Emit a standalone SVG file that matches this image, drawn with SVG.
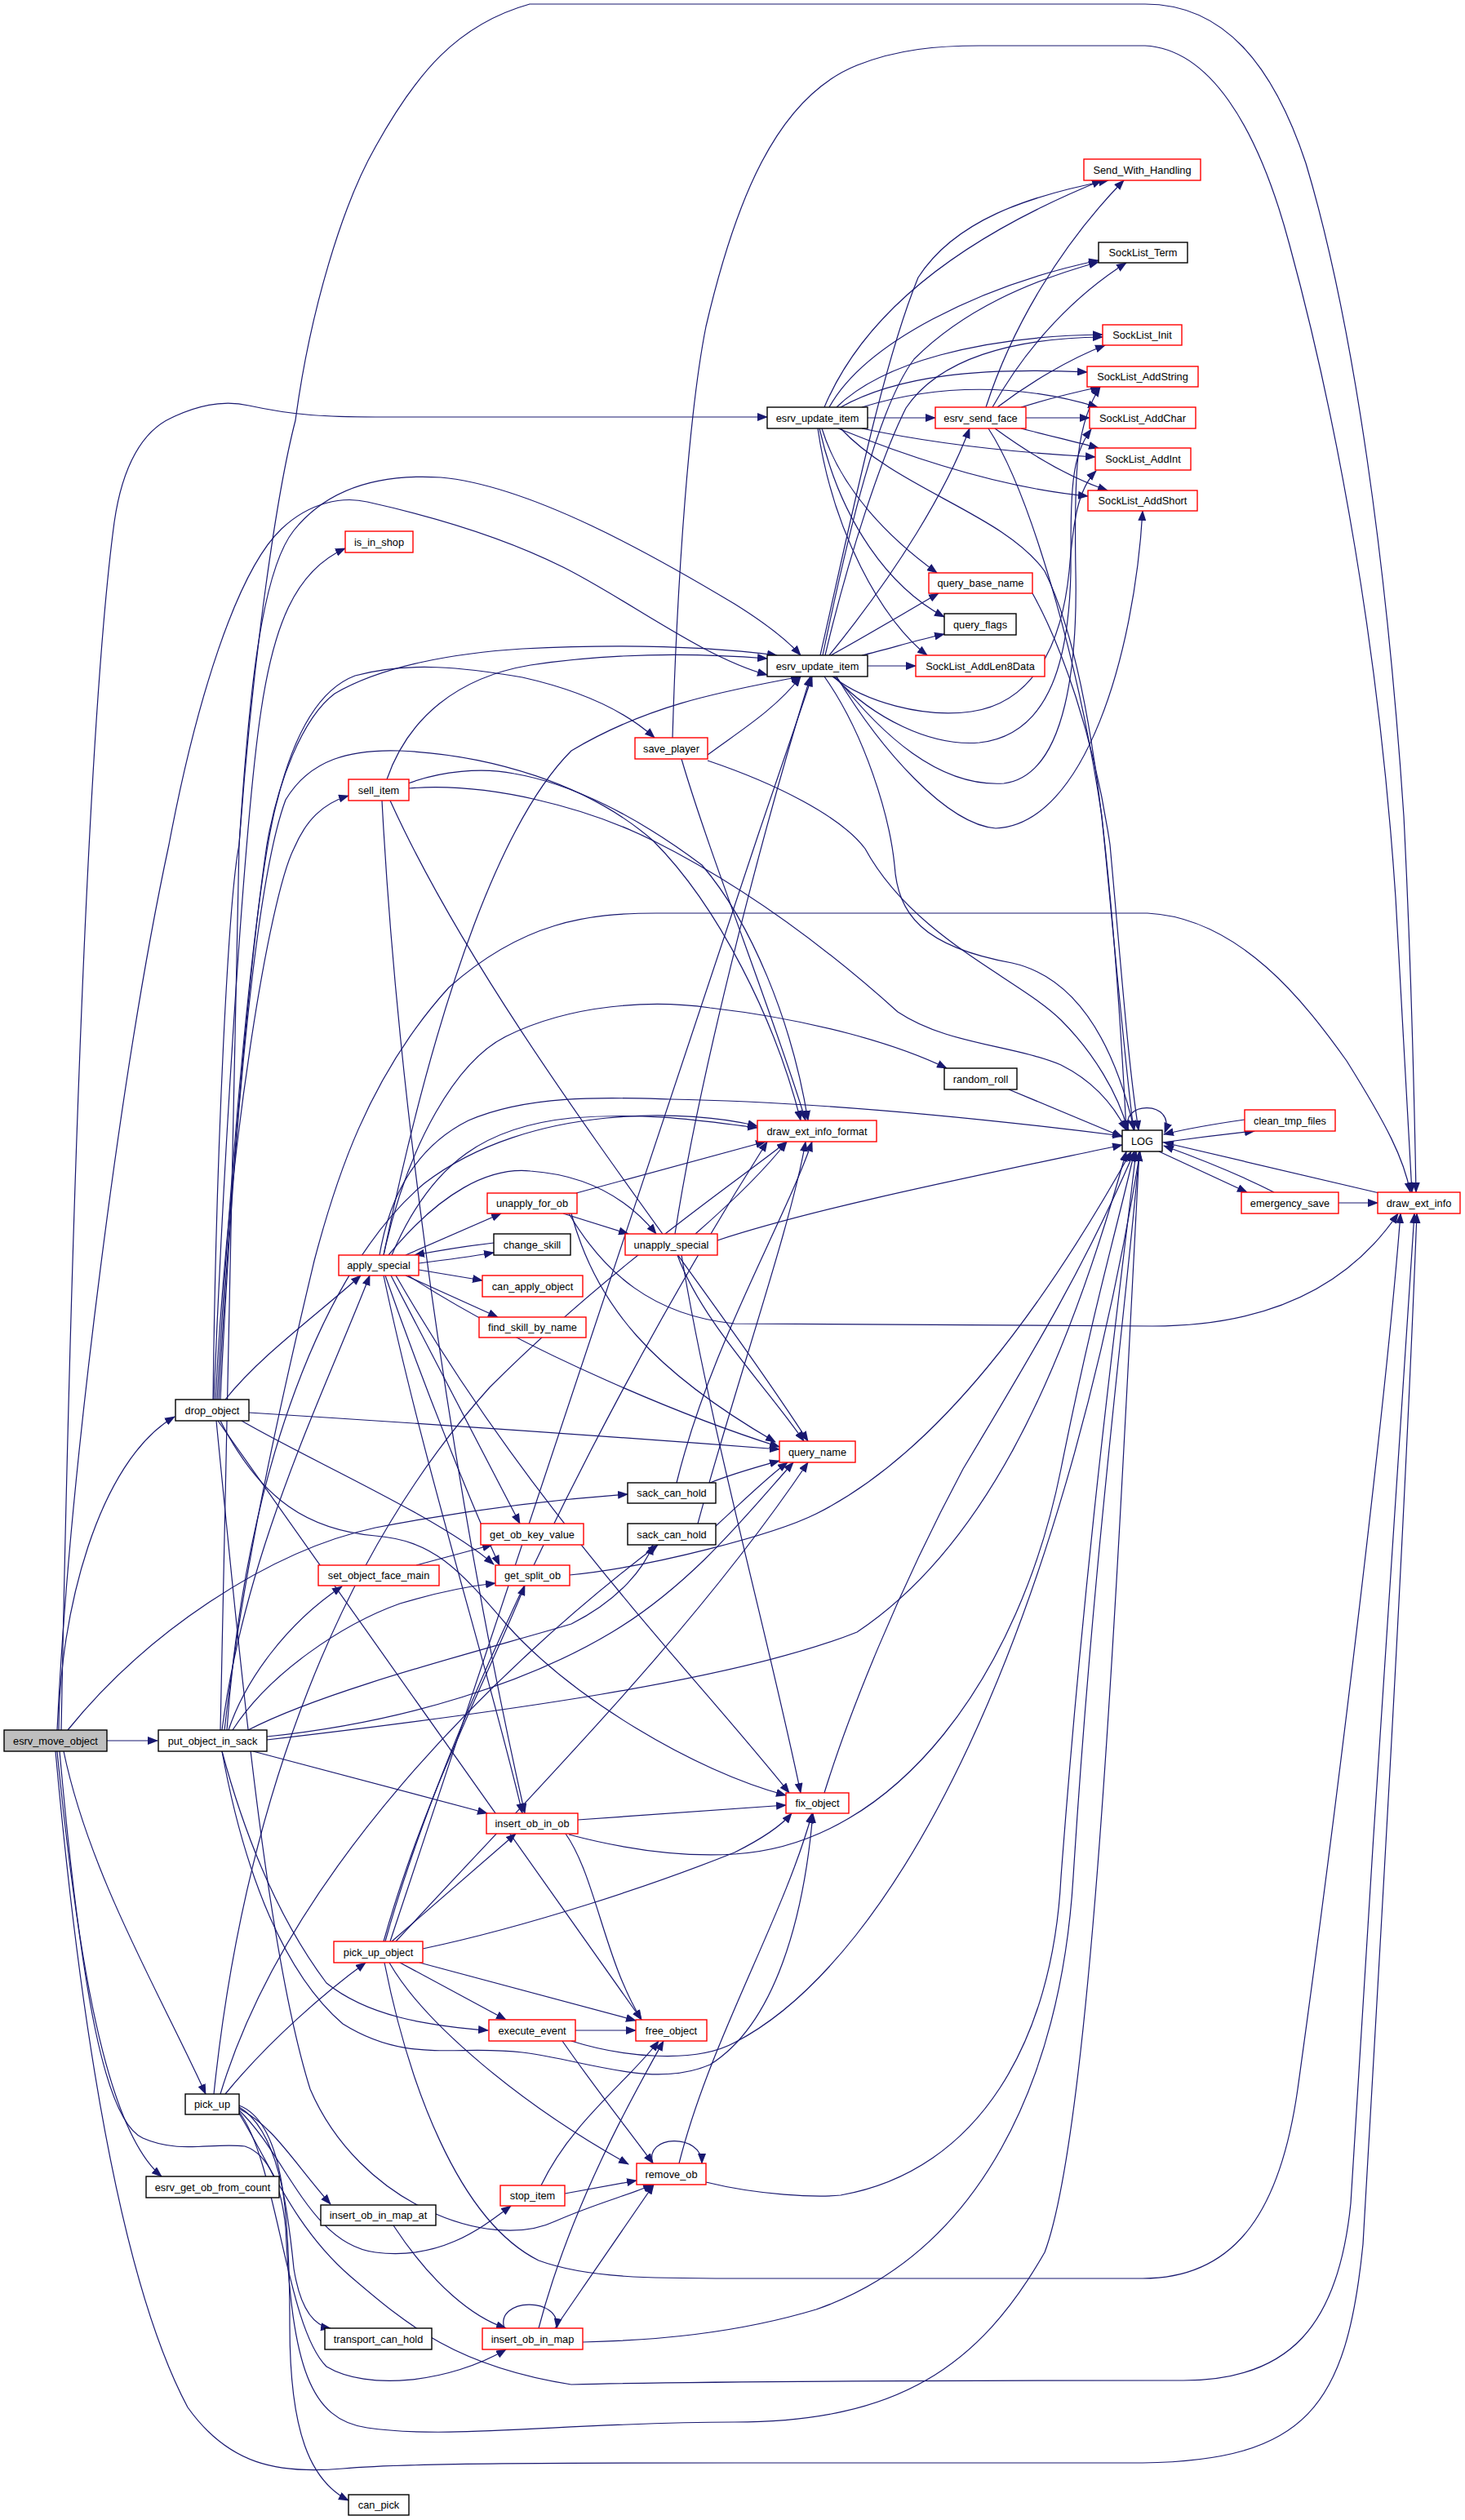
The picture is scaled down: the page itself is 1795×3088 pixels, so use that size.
<svg xmlns="http://www.w3.org/2000/svg" width="1795" height="3088" viewBox="0 0 1795 3088">
<style>
.e{fill:none;stroke:#191970;stroke-width:1.2;marker-end:url(#ah)}
.nd rect{fill:#fff;stroke-width:1.4}
.r rect{stroke:#ff0000}
.b rect{stroke:#000}
.s rect{fill:#bfbfbf;stroke:#000}
text{font-family:"Liberation Sans",Arial,Helvetica,sans-serif;font-size:12.8px;text-anchor:middle;fill:#000}
</style>
<defs>
<marker id="ah" markerWidth="13" markerHeight="10" refX="12" refY="5" orient="auto" markerUnits="userSpaceOnUse"><path d="M0,0 L13,5 L0,10 z" fill="#191970"/></marker>
</defs>
<rect width="1795" height="3088" fill="#fff"/>
<g id="edges">
<path class="e" d="M131,2133 L193,2133"/>
<path class="e" d="M72,2120 C72,1980 120,1790 214,1736"/>
<path class="e" d="M75,2120 C85,1600 105,900 140,640 C150,570 175,528 210,512 C245,495 275,490 305,497 C360,509 400,511 460,511 L940,511"/>
<path class="e" d="M70,2120 C85,1800 150,1300 207,1035 C240,860 290,700 345,648 C380,615 420,608 450,615 C540,635 620,660 690,695 C770,735 860,805 940,827"/>
<path class="e" d="M83,2120 C180,2000 330,1900 460,1872 C600,1845 700,1836 769,1831"/>
<path class="e" d="M78,2146 C110,2300 200,2450 252,2566"/>
<path class="e" d="M70,2146 C95,2400 130,2610 198,2667"/>
<path class="e" d="M73,2146 C100,2450 130,2600 175,2620 C220,2640 260,2625 300,2630 C330,2640 345,2680 350,2730 C358,2900 380,2965 450,2975 C550,2990 700,2968 900,2968 C1100,2968 1200,2900 1280,2760 C1340,2600 1370,1900 1396,1411"/>
<path class="e" d="M68,2146 C100,2500 150,2800 230,2950 C280,3020 340,3032 420,3025 C500,3018 700,3018 900,3018 L1400,3018 C1600,3015 1650,2950 1670,2750 C1690,2400 1720,1900 1736,1487"/>
<path class="e" d="M276,1715 C320,1660 390,1610 442,1563"/>
<path class="e" d="M305,1731 Q640,1752 955,1776"/>
<path class="e" d="M296,1741 C380,1790 540,1860 605,1917"/>
<path class="e" d="M270,1741 C320,1840 380,1875 460,1882 C530,1888 560,1920 620,1990 C700,2080 850,2170 963,2200"/>
<path class="e" d="M267,1741 L786,2475"/>
<path class="e" d="M262,1715 C275,1400 300,1000 320,870 C335,770 360,700 423,672"/>
<path class="e" d="M264,1715 C280,1400 330,1100 360,1040 C375,1005 395,985 427,975"/>
<path class="e" d="M266,1715 C290,1300 320,1050 340,980 C360,900 390,845 435,828 C500,810 570,818 640,830 C720,848 770,875 802,904"/>
<path class="e" d="M261,1715 C265,1400 280,1100 293,1035 C310,800 340,600 362,515 C380,380 420,250 460,180 C510,90 560,30 649,5 L1403,5 C1500,5 1560,80 1600,200 C1660,400 1700,700 1720,1000 C1730,1200 1733,1350 1735,1461"/>
<path class="e" d="M268,1715 C285,1400 310,1150 327,1035 C340,960 370,880 410,850 C470,815 560,800 640,795 C740,790 850,790 952,803"/>
<path class="e" d="M270,1715 C290,1300 320,1060 350,980 C380,930 430,918 490,920 C600,925 720,960 800,1030 C880,1110 950,1250 981,1373"/>
<path class="e" d="M265,1741 C300,2100 330,2400 380,2560 C440,2700 600,2760 680,2722 C730,2700 770,2690 800,2677"/>
<path class="e" d="M310,2146 L597,2222"/>
<path class="e" d="M280,2120 C300,2060 350,1990 419,1944"/>
<path class="e" d="M285,2120 C330,2050 420,1990 490,1965 C540,1950 580,1943 607,1940"/>
<path class="e" d="M304,2120 C400,2070 600,2020 700,1990 C760,1960 790,1920 800,1893"/>
<path class="e" d="M327,2128 C500,2110 650,2060 750,2000 C850,1940 920,1850 972,1792"/>
<path class="e" d="M327,2132 C600,2100 900,2060 1050,2000 C1200,1900 1300,1700 1380,1411"/>
<path class="e" d="M272,2146 C300,2250 340,2350 400,2430 C450,2470 520,2482 598,2488"/>
<path class="e" d="M270,2120 C275,1900 280,1500 293,1035 C305,850 320,700 360,650 C400,600 460,580 540,585 C650,595 800,680 900,740 C940,765 965,785 981,803"/>
<path class="e" d="M278,2120 C300,1800 400,1550 520,1450 C650,1350 850,1360 928,1380"/>
<path class="e" d="M272,2120 C300,1900 400,1700 453,1563"/>
<path class="e" d="M272,2146 C300,2300 350,2420 420,2480 C500,2530 560,2505 640,2515 C720,2525 800,2560 870,2530 C950,2480 985,2350 996,2222"/>
<path class="e" d="M275,2120 C300,1900 360,1650 385,1545 C410,1450 450,1320 550,1210 C640,1130 720,1119 804,1119 L1406,1119 C1520,1125 1600,1230 1650,1300 C1700,1380 1720,1420 1728,1461"/>
<path class="e" d="M276,2566 C330,2500 400,2440 448,2405"/>
<path class="e" d="M293,2580 C345,2600 355,2700 355,2850 C355,2980 380,3040 427,3064"/>
<path class="e" d="M293,2582 C340,2610 352,2700 360,2780 C368,2830 385,2850 405,2853"/>
<path class="e" d="M293,2584 C335,2605 360,2650 405,2701"/>
<path class="e" d="M293,2586 C350,2640 380,2750 460,2760 C540,2770 590,2730 626,2703"/>
<path class="e" d="M293,2588 C340,2650 350,2850 400,2900 C450,2930 550,2920 620,2879"/>
<path class="e" d="M262,2566 C300,2200 420,1900 600,1700 C750,1550 900,1450 964,1399"/>
<path class="e" d="M270,2566 C350,2300 600,2050 806,1893"/>
<path class="e" d="M293,2590 C330,2650 360,2730 430,2790 C500,2850 560,2900 700,2922 C900,2917 1300,2917 1450,2917 C1580,2917 1640,2850 1655,2700 C1680,2300 1710,1800 1733,1487"/>
<path class="e" d="M480,2379 L632,2247"/>
<path class="e" d="M490,2405 L620,2475"/>
<path class="e" d="M514,2405 L779,2476"/>
<path class="e" d="M470,2379 C520,2200 600,2050 643,1943"/>
<path class="e" d="M518,2388 C650,2360 800,2310 900,2270 C930,2255 955,2240 970,2222"/>
<path class="e" d="M477,2405 C520,2480 640,2580 770,2652"/>
<path class="e" d="M471,2405 C500,2550 560,2720 660,2770 C720,2792 800,2792 900,2792 L1400,2792 C1520,2792 1570,2700 1590,2560 C1640,2200 1700,1700 1716,1487"/>
<path class="e" d="M478,2379 C600,2000 800,1400 995,829"/>
<path class="e" d="M472,2379 C550,2100 750,1700 940,1399"/>
<path class="e" d="M485,2379 C650,2200 850,2000 990,1792"/>
<path class="e" d="M1020,829 C1060,860 1130,880 1190,872 C1260,862 1300,800 1310,700 C1315,640 1320,600 1343,577"/>
<path class="e" d="M1022,829 C1070,880 1140,915 1200,910 C1290,900 1310,800 1312,700 C1312,600 1312,560 1337,526"/>
<path class="e" d="M1024,829 C1080,900 1150,965 1230,960 C1310,950 1320,800 1318,700 C1316,580 1318,520 1348,474"/>
<path class="e" d="M1025,829 C1080,920 1160,1010 1220,1015 C1330,1010 1390,800 1400,626"/>
<path class="e" d="M1007,525 C1030,600 1090,660 1148,702"/>
<path class="e" d="M1004,525 C1030,640 1090,720 1157,756"/>
<path class="e" d="M1002,525 C1020,650 1080,760 1136,803"/>
<path class="e" d="M1056,525 C1150,545 1250,555 1342,560"/>
<path class="e" d="M1027,525 C1150,575 1250,600 1333,608"/>
<path class="e" d="M1030,525 C1100,600 1230,630 1280,700 C1330,800 1360,1000 1380,1385"/>
<path class="e" d="M1010,499 C1060,380 1180,290 1350,221"/>
<path class="e" d="M1016,499 C1060,420 1200,350 1346,319"/>
<path class="e" d="M1025,499 C1080,445 1200,412 1351,410"/>
<path class="e" d="M1030,499 C1100,460 1200,450 1332,456"/>
<path class="e" d="M1056,499 C1150,470 1250,470 1345,499"/>
<path class="e" d="M1063,512 L1146,512"/>
<path class="e" d="M1005,803 C1040,650 1080,450 1125,340 C1170,270 1260,240 1358,221"/>
<path class="e" d="M1008,803 C1040,650 1075,500 1120,440 C1180,380 1260,345 1346,321"/>
<path class="e" d="M1011,803 C1040,680 1080,560 1110,500 C1150,440 1240,414 1351,413"/>
<path class="e" d="M1016,803 C1100,700 1160,600 1188,525"/>
<path class="e" d="M1018,803 C1060,780 1110,750 1150,727"/>
<path class="e" d="M1056,803 C1090,795 1120,785 1157,777"/>
<path class="e" d="M1063,816 L1122,816"/>
<path class="e" d="M1010,829 C1060,900 1090,1000 1096,1060 C1100,1120 1130,1160 1240,1180 C1330,1200 1370,1300 1390,1385"/>
<path class="e" d="M1208,499 C1240,400 1300,300 1377,221"/>
<path class="e" d="M1216,499 C1260,420 1320,360 1380,322"/>
<path class="e" d="M1222,499 C1260,470 1310,440 1354,423"/>
<path class="e" d="M1251,499 C1280,490 1320,480 1348,474"/>
<path class="e" d="M1257,512 L1335,512"/>
<path class="e" d="M1251,525 C1290,535 1320,542 1346,549"/>
<path class="e" d="M1219,525 C1260,555 1310,585 1357,601"/>
<path class="e" d="M1211,525 C1260,600 1320,800 1350,1000 C1365,1150 1378,1300 1389,1385"/>
<path class="e" d="M1265,727 C1300,790 1340,900 1360,1035 C1375,1200 1382,1300 1395,1385"/>
<path class="e" d="M1236,1335 L1375,1393"/>
<path class="e" d="M1383,1385 C1370,1348 1442,1348 1427,1388"/>
<path class="e" d="M1424,1400 C1460,1395 1500,1390 1537,1386"/>
<path class="e" d="M1525,1372 C1490,1377 1455,1383 1426,1390"/>
<path class="e" d="M1420,1411 L1528,1461"/>
<path class="e" d="M1561,1461 C1520,1440 1470,1420 1426,1404"/>
<path class="e" d="M1690,1462 L1426,1400"/>
<path class="e" d="M1640,1474 L1688,1474"/>
<path class="e" d="M824,904 C830,700 845,500 865,400 C900,250 950,120 1050,80 C1100,60 1150,56 1200,56 L1403,56 C1480,60 1540,150 1580,300 C1640,520 1690,800 1710,1100 C1720,1300 1727,1400 1730,1461"/>
<path class="e" d="M835,930 C870,1050 950,1250 987,1373"/>
<path class="e" d="M867,932 C950,960 1030,1000 1060,1040 C1120,1150 1250,1200 1300,1250 C1340,1290 1370,1340 1382,1385"/>
<path class="e" d="M867,925 C900,900 950,870 981,829"/>
<path class="e" d="M474,955 C500,880 560,830 650,815 C750,800 850,800 940,807"/>
<path class="e" d="M500,960 C540,945 590,940 630,948 C700,960 780,1000 860,1060 C920,1130 970,1250 990,1373"/>
<path class="e" d="M478,981 C600,1250 850,1550 990,1766"/>
<path class="e" d="M468,981 C490,1400 570,1900 643,2222"/>
<path class="e" d="M501,966 C600,958 720,990 800,1030 C900,1080 1000,1150 1100,1240 C1160,1280 1240,1280 1300,1305 C1340,1325 1365,1355 1380,1385"/>
<path class="e" d="M497,1538 L614,1487"/>
<path class="e" d="M513,1548 C545,1544 575,1540 605,1535"/>
<path class="e" d="M605,1523 C570,1527 540,1532 508,1538"/>
<path class="e" d="M513,1556 L591,1569"/>
<path class="e" d="M497,1563 L610,1614"/>
<path class="e" d="M476,1538 C540,1460 600,1430 650,1435 C720,1440 770,1470 804,1512"/>
<path class="e" d="M470,1538 C500,1400 560,1300 620,1270 C700,1230 800,1225 870,1235 C1000,1250 1100,1280 1160,1309"/>
<path class="e" d="M465,1538 C480,1450 520,1400 574,1373 C650,1340 750,1345 821,1347 C1000,1350 1200,1370 1375,1392"/>
<path class="e" d="M480,1538 C530,1420 600,1380 700,1370 C800,1362 870,1375 928,1382"/>
<path class="e" d="M470,1538 C540,1200 620,1000 700,920 C800,860 900,845 981,829"/>
<path class="e" d="M479,1563 L637,1867"/>
<path class="e" d="M472,1563 C520,1700 580,1850 612,1918"/>
<path class="e" d="M470,1563 C520,1800 600,2050 640,2222"/>
<path class="e" d="M500,1563 C650,1660 850,1740 955,1773"/>
<path class="e" d="M485,1563 C650,1850 850,2050 967,2197"/>
<path class="e" d="M690,1487 L770,1512"/>
<path class="e" d="M706,1462 L938,1399"/>
<path class="e" d="M700,1487 C730,1600 800,1680 950,1767"/>
<path class="e" d="M697,1487 C740,1560 800,1612 900,1622 L1412,1625 C1550,1625 1650,1580 1713,1487"/>
<path class="e" d="M879,1520 C1000,1480 1200,1440 1375,1403"/>
<path class="e" d="M852,1512 C900,1470 940,1430 964,1399"/>
<path class="e" d="M830,1538 C860,1620 940,1700 985,1766"/>
<path class="e" d="M835,1538 C870,1750 940,2000 981,2197"/>
<path class="e" d="M827,1512 C860,1300 940,1000 993,829"/>
<path class="e" d="M829,1817 C870,1650 960,1500 995,1399"/>
<path class="e" d="M870,1817 C900,1805 930,1797 955,1790"/>
<path class="e" d="M855,1867 C900,1700 970,1500 987,1399"/>
<path class="e" d="M877,1870 C910,1840 940,1810 965,1792"/>
<path class="e" d="M510,1918 L603,1893"/>
<path class="e" d="M698,1930 C800,1920 950,1880 1000,1855 C1150,1780 1280,1600 1386,1411"/>
<path class="e" d="M708,2230 L963,2212"/>
<path class="e" d="M697,2248 C780,2270 850,2275 900,2272 C1100,2260 1250,2050 1300,1800 C1340,1600 1370,1500 1390,1411"/>
<path class="e" d="M693,2247 C730,2300 740,2400 786,2475"/>
<path class="e" d="M705,2488 L779,2488"/>
<path class="e" d="M689,2501 C730,2560 770,2610 800,2651"/>
<path class="e" d="M700,2501 C760,2520 850,2530 900,2503 C1100,2400 1300,2000 1397,1411"/>
<path class="e" d="M692,2688 L780,2672"/>
<path class="e" d="M663,2678 C700,2600 770,2550 807,2501"/>
<path class="e" d="M800,2651 C788,2616 860,2613 860,2651"/>
<path class="e" d="M832,2651 C870,2500 960,2350 995,2222"/>
<path class="e" d="M865,2674 C930,2690 1000,2693 1030,2690 C1200,2660 1290,2500 1300,2300 C1330,1900 1370,1600 1392,1411"/>
<path class="e" d="M618,2853 C606,2816 688,2813 682,2853"/>
<path class="e" d="M680,2853 L801,2677"/>
<path class="e" d="M660,2853 C700,2700 780,2560 813,2501"/>
<path class="e" d="M714,2870 C800,2868 900,2860 1000,2830 C1200,2760 1300,2550 1315,2300 C1340,1900 1380,1600 1396,1411"/>
<path class="e" d="M482,2727 C530,2800 580,2840 620,2853"/>
<path class="e" d="M1010,2197 C1040,2100 1100,1950 1180,1800 C1270,1650 1330,1550 1390,1411"/>
</g>
<g id="node-esrv_move_object" class="nd s"><rect x="5" y="2120" width="126" height="26"/><text x="68" y="2137.6">esrv_move_object</text></g>
<g id="node-put_object_in_sack" class="nd b"><rect x="194" y="2120" width="133" height="26"/><text x="260.5" y="2137.6">put_object_in_sack</text></g>
<g id="node-drop_object" class="nd b"><rect x="215" y="1715" width="90" height="26"/><text x="260" y="1732.6">drop_object</text></g>
<g id="node-pick_up" class="nd b"><rect x="227" y="2566" width="66" height="25"/><text x="260" y="2583.1">pick_up</text></g>
<g id="node-esrv_get_ob_from_count" class="nd b"><rect x="179" y="2667" width="163" height="26"/><text x="260.5" y="2684.6">esrv_get_ob_from_count</text></g>
<g id="node-is_in_shop" class="nd r"><rect x="423" y="651" width="83" height="26"/><text x="464.5" y="668.6">is_in_shop</text></g>
<g id="node-sell_item" class="nd r"><rect x="427" y="955" width="74" height="26"/><text x="464" y="972.6">sell_item</text></g>
<g id="node-apply_special" class="nd r"><rect x="415" y="1538" width="98" height="25"/><text x="464" y="1555.1">apply_special</text></g>
<g id="node-set_object_face_main" class="nd r"><rect x="390" y="1918" width="148" height="25"/><text x="464" y="1935.1">set_object_face_main</text></g>
<g id="node-pick_up_object" class="nd r"><rect x="409" y="2379" width="109" height="26"/><text x="463.5" y="2396.6">pick_up_object</text></g>
<g id="node-insert_ob_in_map_at" class="nd b"><rect x="393" y="2702" width="141" height="25"/><text x="463.5" y="2719.1">insert_ob_in_map_at</text></g>
<g id="node-transport_can_hold" class="nd b"><rect x="398" y="2853" width="131" height="26"/><text x="463.5" y="2870.6">transport_can_hold</text></g>
<g id="node-can_pick" class="nd b"><rect x="427" y="3057" width="74" height="25"/><text x="464" y="3074.1">can_pick</text></g>
<g id="node-unapply_for_ob" class="nd r"><rect x="597" y="1462" width="110" height="25"/><text x="652" y="1479.1">unapply_for_ob</text></g>
<g id="node-change_skill" class="nd b"><rect x="605" y="1512" width="94" height="26"/><text x="652" y="1529.6">change_skill</text></g>
<g id="node-can_apply_object" class="nd r"><rect x="591" y="1563" width="123" height="26"/><text x="652.5" y="1580.6">can_apply_object</text></g>
<g id="node-find_skill_by_name" class="nd r"><rect x="587" y="1614" width="131" height="25"/><text x="652.5" y="1631.1">find_skill_by_name</text></g>
<g id="node-get_ob_key_value" class="nd r"><rect x="589" y="1867" width="126" height="26"/><text x="652" y="1884.6">get_ob_key_value</text></g>
<g id="node-get_split_ob" class="nd r"><rect x="607" y="1918" width="91" height="25"/><text x="652.5" y="1935.1">get_split_ob</text></g>
<g id="node-insert_ob_in_ob" class="nd r"><rect x="596" y="2222" width="112" height="25"/><text x="652" y="2239.1">insert_ob_in_ob</text></g>
<g id="node-execute_event" class="nd r"><rect x="599" y="2475" width="106" height="26"/><text x="652" y="2492.6">execute_event</text></g>
<g id="node-stop_item" class="nd r"><rect x="613" y="2678" width="79" height="25"/><text x="652.5" y="2695.1">stop_item</text></g>
<g id="node-insert_ob_in_map" class="nd r"><rect x="591" y="2853" width="123" height="26"/><text x="652.5" y="2870.6">insert_ob_in_map</text></g>
<g id="node-save_player" class="nd r"><rect x="778" y="904" width="89" height="26"/><text x="822.5" y="921.6">save_player</text></g>
<g id="node-unapply_special" class="nd r"><rect x="766" y="1512" width="113" height="26"/><text x="822.5" y="1529.6">unapply_special</text></g>
<g id="node-sack_can_hold_1" class="nd b"><rect x="769" y="1817" width="108" height="25"/><text x="823" y="1834.1">sack_can_hold</text></g>
<g id="node-sack_can_hold_2" class="nd b"><rect x="769" y="1867" width="108" height="26"/><text x="823" y="1884.6">sack_can_hold</text></g>
<g id="node-free_object" class="nd r"><rect x="779" y="2475" width="87" height="26"/><text x="822.5" y="2492.6">free_object</text></g>
<g id="node-remove_ob" class="nd r"><rect x="780" y="2651" width="85" height="26"/><text x="822.5" y="2668.6">remove_ob</text></g>
<g id="node-esrv_update_item_1" class="nd b"><rect x="940" y="499" width="123" height="26"/><text x="1001.5" y="516.6">esrv_update_item</text></g>
<g id="node-esrv_update_item_2" class="nd b"><rect x="940" y="803" width="123" height="26"/><text x="1001.5" y="820.6">esrv_update_item</text></g>
<g id="node-draw_ext_info_format" class="nd r"><rect x="928" y="1373" width="146" height="26"/><text x="1001" y="1390.6">draw_ext_info_format</text></g>
<g id="node-query_name" class="nd r"><rect x="955" y="1766" width="93" height="26"/><text x="1001.5" y="1783.6">query_name</text></g>
<g id="node-fix_object" class="nd r"><rect x="963" y="2197" width="77" height="25"/><text x="1001.5" y="2214.1">fix_object</text></g>
<g id="node-esrv_send_face" class="nd r"><rect x="1146" y="499" width="111" height="26"/><text x="1201.5" y="516.6">esrv_send_face</text></g>
<g id="node-query_base_name" class="nd r"><rect x="1138" y="702" width="127" height="25"/><text x="1201.5" y="719.1">query_base_name</text></g>
<g id="node-query_flags" class="nd b"><rect x="1157" y="752" width="88" height="26"/><text x="1201" y="769.6">query_flags</text></g>
<g id="node-SockList_AddLen8Data" class="nd r"><rect x="1122" y="803" width="158" height="26"/><text x="1201" y="820.6">SockList_AddLen8Data</text></g>
<g id="node-random_roll" class="nd b"><rect x="1157" y="1309" width="89" height="26"/><text x="1201.5" y="1326.6">random_roll</text></g>
<g id="node-Send_With_Handling" class="nd r"><rect x="1328" y="195" width="143" height="26"/><text x="1399.5" y="212.6">Send_With_Handling</text></g>
<g id="node-SockList_Term" class="nd b"><rect x="1346" y="297" width="109" height="25"/><text x="1400.5" y="314.1">SockList_Term</text></g>
<g id="node-SockList_Init" class="nd r"><rect x="1351" y="398" width="97" height="25"/><text x="1399.5" y="415.1">SockList_Init</text></g>
<g id="node-SockList_AddString" class="nd r"><rect x="1332" y="449" width="136" height="25"/><text x="1400" y="466.1">SockList_AddString</text></g>
<g id="node-SockList_AddChar" class="nd r"><rect x="1335" y="499" width="130" height="26"/><text x="1400" y="516.6">SockList_AddChar</text></g>
<g id="node-SockList_AddInt" class="nd r"><rect x="1342" y="549" width="117" height="27"/><text x="1400.5" y="567.1">SockList_AddInt</text></g>
<g id="node-SockList_AddShort" class="nd r"><rect x="1333" y="601" width="134" height="25"/><text x="1400" y="618.1">SockList_AddShort</text></g>
<g id="node-LOG" class="nd b"><rect x="1375" y="1385" width="49" height="26"/><text x="1399.5" y="1402.6">LOG</text></g>
<g id="node-clean_tmp_files" class="nd r"><rect x="1525" y="1360" width="111" height="26"/><text x="1580.5" y="1377.6">clean_tmp_files</text></g>
<g id="node-emergency_save" class="nd r"><rect x="1521" y="1461" width="119" height="26"/><text x="1580.5" y="1478.6">emergency_save</text></g>
<g id="node-draw_ext_info" class="nd r"><rect x="1688" y="1461" width="101" height="26"/><text x="1738.5" y="1478.6">draw_ext_info</text></g>
</svg>
